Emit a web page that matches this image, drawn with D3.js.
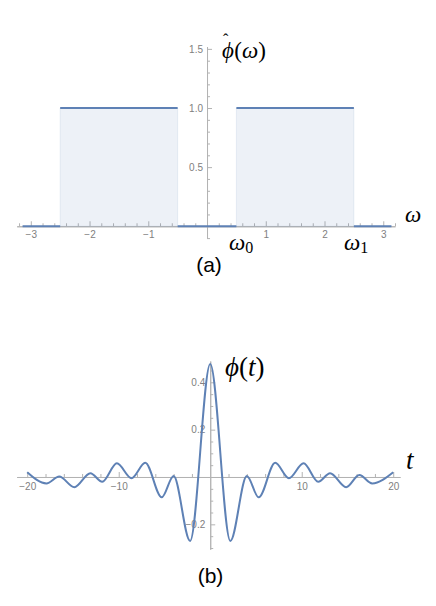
<!DOCTYPE html>
<html>
<head>
<meta charset="utf-8">
<script src="https://cdn.jsdelivr.net/npm/d3@7"></script>
<style>
body { margin: 0; background: #fff; }
.axis path, .axis line { stroke: #b3b3b3; }
.axis text { font-family: "Liberation Sans", Arial, sans-serif; font-size: 10px; fill: #808080; }
.math { font-family: "Liberation Serif", "Times New Roman", serif; fill: #000; }
.cap { font-family: "Liberation Sans", Arial, sans-serif; font-size: 21px; fill: #000; }
</style>
</head>
<body>
<div id="chart"></div>
<script>
// (a) spectrum: piecewise constant between edges
var omegaEdges = [-3.14, -2.5, -0.5, 0.5, 2.5, 3.14];
var omegaLevels = [0, 1, 0, 1, 0];

// (b) phi(t) (extrema)
var phiT = [-20, -17.9, -16.5, -14.85, -13.1, -11.8, -10.2, -8.6, -7.1, -5.3, -4.0, -2.2, 0,
            2.2, 4.0, 5.3, 7.1, 8.6, 10.2, 11.8, 13.1, 14.85, 16.3, 17.7, 20];
var phiV = [0.02, -0.027, 0.002, -0.043, 0.016, -0.02, 0.058, -0.005, 0.06, -0.086, 0.004, -0.27, 0.477,
            -0.27, 0.004, -0.086, 0.06, -0.005, 0.058, -0.02, 0.016, -0.043, 0.008, -0.027, 0.02];

// tick labels
var aTicksX = [-3, -2, -1, 1, 2, 3];
var aTicksY = [0.5, 1.0, 1.5];
var bTicksX = [-20, -10, 10, 20];
var bTicksY = [-0.2, 0.2, 0.4];

var lineColor = "#5e81b5";

var svg = d3.select("#chart").append("svg")
    .attr("width", 436)
    .attr("height", 606);

function minorTicks(lo, hi, step, major) {
    var out = [];
    for (var i = Math.round(lo / step); i * step <= hi + 1e-9; i++) {
        var v = +(i * step).toFixed(4);
        if (Math.abs(v % major) > 1e-6 && Math.abs(Math.abs(v % major) - major) > 1e-6) out.push(v);
    }
    return out;
}

function drawAxes(x, y, o) {
    var y0 = y(0), x0 = x(0);
    // x axis
    svg.append("g").attr("class", "axis")
        .attr("transform", "translate(0," + y0 + ")")
        .call(d3.axisBottom(x).tickValues(o.xMinor).tickSizeInner(-3).tickSizeOuter(0).tickFormat(""));
    svg.append("g").attr("class", "axis")
        .attr("transform", "translate(0," + y0 + ")")
        .call(d3.axisBottom(x).tickValues(o.xMajor).tickSizeInner(-5).tickSizeOuter(0)
            .tickPadding(o.xPad).tickFormat(d3.format("d")));
    // y axis
    svg.append("g").attr("class", "axis")
        .attr("transform", "translate(" + x0 + ",0)")
        .call(d3.axisLeft(y).tickValues(o.yMinor).tickSizeInner(-3).tickSizeOuter(0).tickFormat(""));
    svg.append("g").attr("class", "axis")
        .attr("transform", "translate(" + x0 + ",0)")
        .call(d3.axisLeft(y).tickValues(o.yMajor).tickSizeInner(-5).tickSizeOuter(0)
            .tickPadding(o.yPad).tickFormat(d3.format(".1f")));
}

// ---------- (a) ----------
var xA = d3.scaleLinear().domain([-3.24, 3.2]).range([16.7, 395]);
var yA = d3.scaleLinear().domain([-0.1, 1.52]).range([238.1, 46.5]);

drawAxes(xA, yA, {
    xMajor: aTicksX, xMinor: minorTicks(-3.2, 3.2, 0.2, 1), xPad: 5,
    yMajor: aTicksY, yMinor: minorTicks(-0.1, 1.5, 0.1, 0.5), yPad: 4
});

var segs = omegaLevels.map(function(v, i) {
    return [[omegaEdges[i], v], [omegaEdges[i + 1], v]];
});

var areaA = d3.area()
    .x(function(d) { return xA(d[0]); })
    .y0(yA(0))
    .y1(function(d) { return yA(d[1]); });

svg.selectAll(".fillA").data(segs.filter(function(s) { return s[0][1] > 0; }))
    .enter().append("path")
    .attr("class", "fillA")
    .attr("d", areaA)
    .attr("fill", lineColor)
    .attr("fill-opacity", 0.11)
    .attr("stroke", lineColor)
    .attr("stroke-opacity", 0.12)
    .attr("stroke-width", 1);

var lineA = d3.line()
    .x(function(d) { return xA(d[0]); })
    .y(function(d) { return yA(d[1]); });

svg.selectAll(".segA").data(segs)
    .enter().append("path")
    .attr("class", "segA")
    .attr("d", lineA)
    .attr("fill", "none")
    .attr("stroke", lineColor)
    .attr("stroke-width", 2);

// labels (a) -- hat kept inside the same text element
var la = svg.append("text").attr("class", "math").attr("x", 222).attr("y", 58).style("font-size", "23px");
la.append("tspan").style("font-style", "italic").text("ϕ");
la.append("tspan").attr("dx", -11).attr("dy", -13).style("font-size", "16px").text("ˆ");
la.append("tspan").attr("dx", 6).attr("dy", 13).text("(");
la.append("tspan").style("font-style", "italic").text("ω");
la.append("tspan").text(")");

svg.append("text").attr("class", "math").attr("x", 405).attr("y", 222)
    .style("font-size", "23px").style("font-style", "italic").text("ω");

function subLabel(x, y, sub) {
    var t = svg.append("text").attr("class", "math").attr("x", x).attr("y", y).style("font-size", "23px");
    t.append("tspan").style("font-style", "italic").text("ω");
    t.append("tspan").attr("dy", 3).style("font-size", "16px").text(sub);
}
subLabel(229, 250, "0");
subLabel(344, 250, "1");

svg.append("text").attr("class", "cap").attr("x", 209).attr("y", 272)
    .attr("text-anchor", "middle").text("(a)");

// ---------- (b) ----------
var xB = d3.scaleLinear().domain([-21.15, 20.74]).range([16.7, 400]);
var yB = d3.scaleLinear().domain([-0.305, 0.49]).range([549.2, 361]);

drawAxes(xB, yB, {
    xMajor: bTicksX, xMinor: minorTicks(-20, 20, 2, 10), xPad: 6,
    yMajor: bTicksY, yMinor: minorTicks(-0.3, 0.45, 0.05, 0.2), yPad: 5
});

var lineB = d3.line()
    .x(function(d, i) { return xB(phiT[i]); })
    .y(function(d) { return yB(d); })
    .curve(d3.curveMonotoneX);

svg.append("path")
    .datum(phiV)
    .attr("d", lineB)
    .attr("fill", "none")
    .attr("stroke", lineColor)
    .attr("stroke-width", 2);

var lb = svg.append("text").attr("class", "math").attr("x", 225).attr("y", 376).style("font-size", "27px");
lb.append("tspan").style("font-style", "italic").text("ϕ");
lb.append("tspan").text("(");
lb.append("tspan").style("font-style", "italic").text("t");
lb.append("tspan").text(")");

svg.append("text").attr("class", "math").attr("x", 406).attr("y", 469)
    .style("font-size", "27px").style("font-style", "italic").text("t");

svg.append("text").attr("class", "cap").attr("x", 210.5).attr("y", 583)
    .attr("text-anchor", "middle").text("(b)");
</script>
</body>
</html>
